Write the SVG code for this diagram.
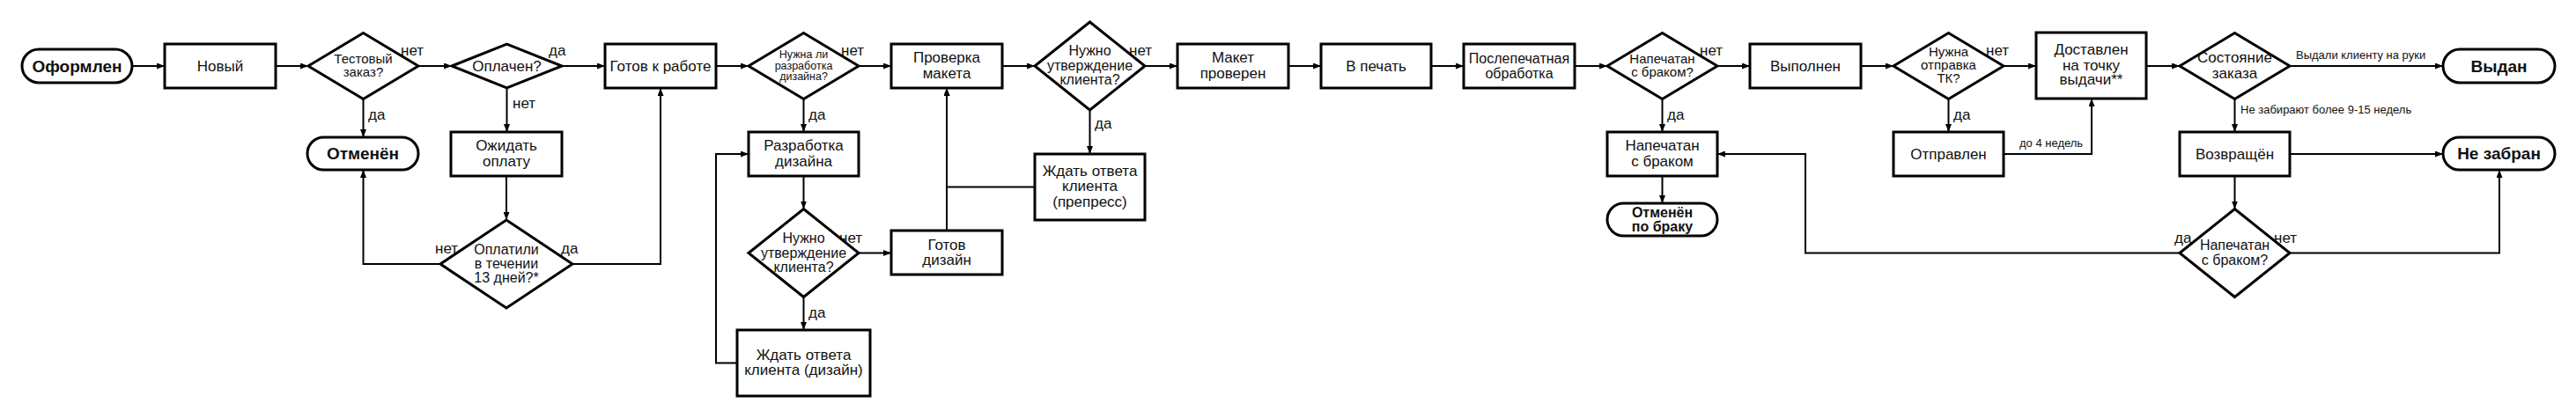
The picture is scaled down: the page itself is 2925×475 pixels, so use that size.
<svg xmlns="http://www.w3.org/2000/svg" width="2925" height="475" viewBox="0 0 2925 475">
<style>
text{font-family:"Liberation Sans",Arial,sans-serif;fill:#111;text-anchor:middle}
.n{fill:#fff;stroke:#000;stroke-width:3}
.b{font-weight:bold;font-size:19px}
.t17{font-size:17px}.t16{font-size:16px}.t15{font-size:15px}.t12{font-size:12.5px}
.c{fill:none;stroke:#000;stroke-width:2}
.l{font-size:17px;text-anchor:start}
.s{font-size:13px;text-anchor:start}
</style>
<defs>
<marker id="a" markerWidth="9" markerHeight="7" refX="9" refY="3.5" orient="auto" markerUnits="userSpaceOnUse"><path d="M0,0 L9,3.5 L0,7 z" fill="#000"/></marker>
</defs>
<rect width="2925" height="475" fill="#fff"/>
<g id="connectors">
<path class="c" marker-end="url(#a)" d="M150,75 H187"/>
<path class="c" marker-end="url(#a)" d="M313,75 H350"/>
<path class="c" marker-end="url(#a)" d="M475,75 H513"/>
<path class="c" marker-end="url(#a)" d="M412.5,112.5 V156"/>
<path class="c" marker-end="url(#a)" d="M638,75 H687"/>
<path class="c" marker-end="url(#a)" d="M575.5,100 V150"/>
<path class="c" marker-end="url(#a)" d="M575,200 V250"/>
<path class="c" marker-end="url(#a)" d="M500,300 H412.5 V193"/>
<path class="c" marker-end="url(#a)" d="M650,300 H750 V100"/>
<path class="c" marker-end="url(#a)" d="M813,75 H850"/>
<path class="c" marker-end="url(#a)" d="M975,75 H1012"/>
<path class="c" marker-end="url(#a)" d="M912.5,112.5 V150"/>
<path class="c" marker-end="url(#a)" d="M912.5,200 V237.5"/>
<path class="c" marker-end="url(#a)" d="M975,287.5 H1012"/>
<path class="c" marker-end="url(#a)" d="M912.5,337.5 V375"/>
<path class="c" marker-end="url(#a)" d="M837,412.5 H813 V175 H850"/>
<path class="c" marker-end="url(#a)" d="M1075,262 V100"/>
<path class="c" marker-end="url(#a)" d="M1175,212.5 H1075 V100"/>
<path class="c" marker-end="url(#a)" d="M1138,75 H1175"/>
<path class="c" marker-end="url(#a)" d="M1300,75 H1337"/>
<path class="c" marker-end="url(#a)" d="M1237.5,125 V175"/>
<path class="c" marker-end="url(#a)" d="M1463,75 H1500"/>
<path class="c" marker-end="url(#a)" d="M1625,75 H1662"/>
<path class="c" marker-end="url(#a)" d="M1788,75 H1825"/>
<path class="c" marker-end="url(#a)" d="M1950,75 H1987"/>
<path class="c" marker-end="url(#a)" d="M1887.5,112.5 V150"/>
<path class="c" marker-end="url(#a)" d="M1887.5,200 V231"/>
<path class="c" marker-end="url(#a)" d="M2113,75 H2150"/>
<path class="c" marker-end="url(#a)" d="M2275,75 H2312"/>
<path class="c" marker-end="url(#a)" d="M2212.5,112.5 V150"/>
<path class="c" marker-end="url(#a)" d="M2275,175 H2375 V112"/>
<path class="c" marker-end="url(#a)" d="M2437,75 H2475"/>
<path class="c" marker-end="url(#a)" d="M2600,75 H2774"/>
<path class="c" marker-end="url(#a)" d="M2537.5,112.5 V150"/>
<path class="c" marker-end="url(#a)" d="M2600,175 H2774"/>
<path class="c" marker-end="url(#a)" d="M2537.5,200 V237.5"/>
<path class="c" marker-end="url(#a)" d="M2600,287.5 H2838 V193"/>
<path class="c" marker-end="url(#a)" d="M2475,287.5 H2050 V175 H1950"/>
<text class="l" x="455" y="63">нет</text>
<text class="l" x="418" y="136">да</text>
<text class="l" x="623" y="63">да</text>
<text class="l" x="582" y="123">нет</text>
<text class="l" x="494" y="288">нет</text>
<text class="l" x="637" y="288">да</text>
<text class="l" x="955" y="63">нет</text>
<text class="l" x="918" y="136">да</text>
<text class="l" x="953" y="276">нет</text>
<text class="l" x="918" y="361">да</text>
<text class="l" x="1282" y="63">нет</text>
<text class="l" x="1243" y="146">да</text>
<text class="l" x="1930" y="63">нет</text>
<text class="l" x="1893" y="136">да</text>
<text class="l" x="2255" y="63">нет</text>
<text class="l" x="2218" y="136">да</text>
<text class="s" x="2293" y="167">до 4 недель</text>
<text class="s" x="2607" y="67">Выдали клиенту на руки</text>
<text class="s" x="2544" y="129">Не забирают более 9-15 недель</text>
<text class="l" x="2469" y="276">да</text>
<text class="l" x="2582" y="276">нет</text>
</g>
<g id="oformlen"><rect class="n" x="25" y="56" width="125" height="38" rx="19"/><text class="b" x="87.5" y="81.5">Оформлен</text></g>
<g id="novyi"><rect class="n" x="187" y="50" width="126" height="50"/><text class="t17" x="250" y="81">Новый</text></g>
<g id="test"><polygon class="n" points="350,75 412.5,37.5 475,75 412.5,112.5"/><text class="t15" x="412.5" y="72">Тестовый</text><text class="t15" x="412.5" y="87">заказ?</text></g>
<g id="otmenen"><rect class="n" x="349" y="156" width="126" height="37" rx="18.5"/><text class="b" x="412" y="181">Отменён</text></g>
<g id="oplachen"><polygon class="n" points="513,75 575.5,50 638,75 575.5,100"/><text class="t17" x="575.5" y="81">Оплачен?</text></g>
<g id="ozhidat"><rect class="n" x="512" y="150" width="126" height="50"/><text class="t17" x="575" y="171">Ожидать</text><text class="t17" x="575" y="189">оплату</text></g>
<g id="oplatili"><polygon class="n" points="500,300 575,250 650,300 575,350"/><text class="t16" x="575" y="288.5">Оплатили</text><text class="t16" x="575" y="304.5">в течении</text><text class="t16" x="575" y="320.5">13 дней?*</text></g>
<g id="gotov"><rect class="n" x="687" y="50" width="126" height="50"/><text class="t17" x="750" y="81">Готов к работе</text></g>
<g id="nuzhnadiz"><polygon class="n" points="850,75 912.5,37.5 975,75 912.5,112.5"/><text class="t12" x="912.5" y="66">Нужна ли</text><text class="t12" x="912.5" y="78.5">разработка</text><text class="t12" x="912.5" y="91">дизайна?</text></g>
<g id="razrabotka"><rect class="n" x="850" y="150" width="125" height="50"/><text class="t17" x="912.5" y="171">Разработка</text><text class="t17" x="912.5" y="189">дизайна</text></g>
<g id="utv1"><polygon class="n" points="850,287.5 912.5,237.5 975,287.5 912.5,337.5"/><text class="t16" x="912.5" y="275.5">Нужно</text><text class="t16" x="912.5" y="292.5">утверждение</text><text class="t16" x="912.5" y="308.5">клиента?</text></g>
<g id="zhdatdiz"><rect class="n" x="837" y="375" width="151" height="75"/><text class="t17" x="912.5" y="409">Ждать ответа</text><text class="t17" x="912.5" y="426">клиента (дизайн)</text></g>
<g id="gotovdiz"><rect class="n" x="1012" y="262" width="126" height="50"/><text class="t17" x="1075" y="284">Готов</text><text class="t17" x="1075" y="301">дизайн</text></g>
<g id="proverka"><rect class="n" x="1012" y="50" width="126" height="50"/><text class="t17" x="1075" y="71">Проверка</text><text class="t17" x="1075" y="89">макета</text></g>
<g id="utv2"><polygon class="n" points="1175,75 1237.5,25 1300,75 1237.5,125"/><text class="t16" x="1237.5" y="62.5">Нужно</text><text class="t16" x="1237.5" y="79.5">утверждение</text><text class="t16" x="1237.5" y="95.5">клиента?</text></g>
<g id="zhdatpre"><rect class="n" x="1175" y="175" width="125" height="75"/><text class="t17" x="1237.5" y="200">Ждать ответа</text><text class="t17" x="1237.5" y="217">клиента</text><text class="t17" x="1237.5" y="235">(препресс)</text></g>
<g id="maket"><rect class="n" x="1337" y="50" width="126" height="50"/><text class="t17" x="1400" y="71">Макет</text><text class="t17" x="1400" y="89">проверен</text></g>
<g id="vpechat"><rect class="n" x="1500" y="50" width="125" height="50"/><text class="t17" x="1562.5" y="81">В печать</text></g>
<g id="posle"><rect class="n" x="1662" y="50" width="126" height="50"/><text class="t16" x="1725" y="71.5">Послепечатная</text><text class="t16" x="1725" y="88.5">обработка</text></g>
<g id="brak1"><polygon class="n" points="1825,75 1887.5,37.5 1950,75 1887.5,112.5"/><text class="t15" x="1887.5" y="72">Напечатан</text><text class="t15" x="1887.5" y="87">с браком?</text></g>
<g id="brakrect"><rect class="n" x="1825" y="150" width="125" height="50"/><text class="t17" x="1887.5" y="171">Напечатан</text><text class="t17" x="1887.5" y="189">с браком</text></g>
<g id="otmenenbrak"><rect class="n" x="1825" y="231" width="125" height="37" rx="18.5"/><text class="t16" font-weight="bold" x="1887.5" y="246.5">Отменён</text><text class="t16" font-weight="bold" x="1887.5" y="262.5">по браку</text></g>
<g id="vypolnen"><rect class="n" x="1987" y="50" width="126" height="50"/><text class="t17" x="2050" y="81">Выполнен</text></g>
<g id="tk"><polygon class="n" points="2150,75 2212.5,37.5 2275,75 2212.5,112.5"/><text class="t15" x="2212.5" y="64">Нужна</text><text class="t15" x="2212.5" y="79">отправка</text><text class="t15" x="2212.5" y="94">ТК?</text></g>
<g id="otpravlen"><rect class="n" x="2150" y="150" width="125" height="50"/><text class="t17" x="2212.5" y="181">Отправлен</text></g>
<g id="dostavlen"><rect class="n" x="2312" y="37" width="125" height="75"/><text class="t17" x="2374.5" y="62">Доставлен</text><text class="t17" x="2374.5" y="80">на точку</text><text class="t17" x="2374.5" y="96">выдачи**</text></g>
<g id="sostoyanie"><polygon class="n" points="2475,75 2537.5,37.5 2600,75 2537.5,112.5"/><text class="t17" x="2537.5" y="71">Состояние</text><text class="t17" x="2537.5" y="89">заказа</text></g>
<g id="vydan"><rect class="n" x="2774" y="56" width="127" height="38" rx="19"/><text class="b" x="2837.5" y="81.5">Выдан</text></g>
<g id="vozvrashen"><rect class="n" x="2475" y="150" width="125" height="50"/><text class="t17" x="2537.5" y="181">Возвращён</text></g>
<g id="nezabran"><rect class="n" x="2774" y="156" width="127" height="37" rx="18.5"/><text class="b" x="2837.5" y="181">Не забран</text></g>
<g id="brak2"><polygon class="n" points="2475,287.5 2537.5,237.5 2600,287.5 2537.5,337.5"/><text class="t16" x="2537.5" y="283.5">Напечатан</text><text class="t16" x="2537.5" y="300.5">с браком?</text></g>
</svg>
